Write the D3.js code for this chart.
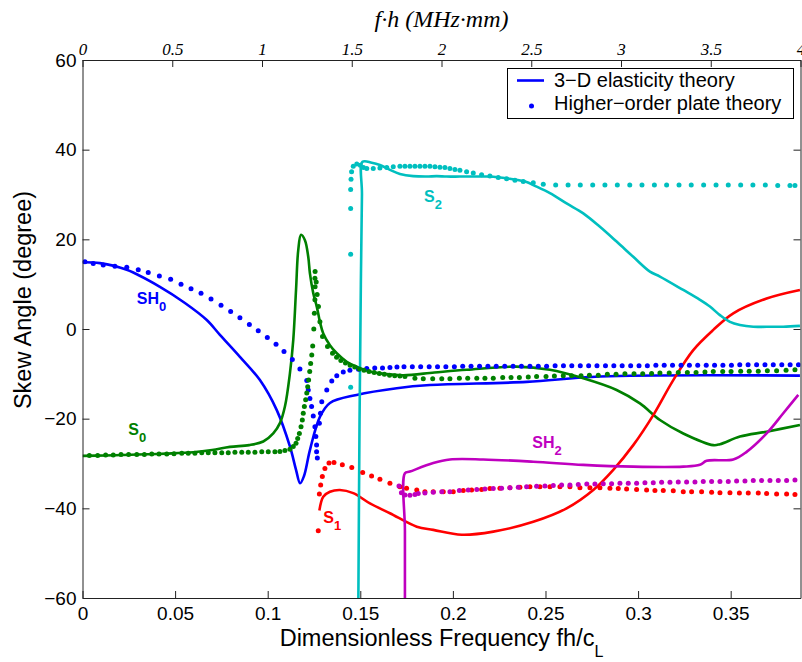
<!DOCTYPE html>
<html>
<head>
<meta charset="utf-8">
<script src="https://cdn.jsdelivr.net/npm/d3@7"></script>
<style>
  body{margin:0;background:#fff;}
  svg{display:block;}
</style>
</head>
<body>
<div id="chart"></div>
<script>
// ---------------- data (x: fh/cL, y: skew angle in degrees) ----------------
var xTicks=[0,0.05,0.1,0.15,0.2,0.25,0.3,0.35];
var xTopTicks=[0,0.5,1,1.5,2,2.5,3,3.5,4];
var yTicks=[-60,-40,-20,0,20,40,60];

// 3-D elasticity theory (solid)
var sh0Solid=[[0,14.9],[0.0094,14.7],[0.0239,13.2],[0.0418,9.4],[0.0553,5.8],[0.0671,2.0],[0.0742,-1.3],[0.085,-6.2],
  [0.0958,-11.4],[0.1049,-18.1],[0.112,-26.2],[0.1153,-31.4],[0.1175,-34.4],[0.1196,-32.8],[0.1228,-27.0],[0.1282,-19.6],
  [0.1336,-16.5],[0.148,-14.7],[0.1697,-13.2],[0.1876,-12.5],[0.2398,-11.8],[0.2794,-10.6],[0.3874,-10.4]];
var s0Solid=[[0,-28.3],[0.012,-28.2],[0.03,-28.0],[0.045,-27.8],[0.0598,-27.5],[0.07,-27.0],[0.0796,-26.3],[0.09,-25.9],
  [0.0976,-25.1],[0.103,-23.3],[0.1066,-21.0],[0.1093,-17.3],[0.112,-9.9],[0.1138,-2.5],[0.1153,8.7],[0.1165,17.6],
  [0.118,21.0],[0.1201,19.8],[0.1219,16.1],[0.1228,12.4],[0.1246,8.0],[0.1265,5.0],[0.1282,1.6],[0.13,-1.0],[0.1336,-3.6],
  [0.1373,-5.4],[0.1427,-7.3],[0.1481,-8.4],[0.1552,-9.5],[0.1606,-9.9],[0.1732,-10.3],[0.19,-9.7],[0.2075,-9.1],
  [0.2345,-8.4],[0.2524,-9.1],[0.2704,-11.0],[0.2884,-13.6],[0.301,-16.6],[0.3118,-20.3],[0.3244,-23.3],[0.3406,-25.9],
  [0.3442,-25.7],[0.355,-24.0],[0.3694,-22.9],[0.3874,-21.4]];
var s1Solid=[[0.1279,-40.5],[0.13,-37.4],[0.1336,-36.3],[0.139,-35.9],[0.1462,-36.6],[0.1552,-38.9],[0.166,-41.1],
  [0.1805,-44.1],[0.1894,-44.8],[0.2048,-45.9],[0.2218,-45.2],[0.2434,-43.0],[0.2614,-40.0],[0.2758,-35.9],[0.2866,-31.4],
  [0.2974,-25.9],[0.3082,-19.2],[0.319,-11.4],[0.3298,-4.7],[0.3406,-0.2],[0.3514,3.5],[0.3694,6.8],[0.3874,8.7]];
var s2Solid=[[0.1489,-64],[0.1496,-20],[0.1503,10],[0.1509,30],[0.1512,37.3],[0.1562,37.1],[0.1606,36.6],[0.166,35.5],
  [0.1714,34.6],[0.1786,34.1],[0.1858,34.0],[0.1912,34.1],[0.1966,34.0],[0.2038,34.0],[0.211,34.0],[0.2182,34.0],
  [0.2254,33.8],[0.2308,33.5],[0.2398,32.8],[0.2434,32.1],[0.2524,30.3],[0.2614,28.0],[0.2704,25.8],[0.2794,22.8],
  [0.2884,19.5],[0.2974,16.1],[0.3064,12.8],[0.3118,11.7],[0.3244,8.7],[0.3334,6.5],[0.3388,5.0],[0.3442,3.1],
  [0.3496,1.6],[0.355,0.9],[0.3622,0.5],[0.3694,0.5],[0.3784,0.5],[0.3874,0.7]];
var sh2Solid=[[0.1741,-64],[0.1741,-45],[0.1741,-32.2],[0.1768,-31.8],[0.1894,-29.9],[0.1984,-29.1],[0.2164,-29.1],
  [0.2434,-29.6],[0.2704,-30.3],[0.2974,-30.7],[0.3244,-30.7],[0.3334,-30.3],[0.337,-29.4],[0.3514,-29.1],
  [0.3586,-27.4],[0.3694,-23.3],[0.3784,-18.8],[0.3865,-14.7]];

// Higher-order plate theory (dots)
var sh0Dots=[[0.0013,15.0],[0.0058,14.6],[0.0112,14.3],[0.0175,14.0],[0.0239,13.8],[0.0301,13.2],[0.0355,12.6],
  [0.0415,11.8],[0.0476,11.1],[0.0532,10.0],[0.0586,9.0],[0.064,8.0],[0.0694,6.7],[0.0748,5.3],[0.08,3.9],[0.085,2.5],
  [0.0901,1.0],[0.0949,-0.4],[0.0998,-1.9],[0.1045,-3.4],[0.1088,-5.0],[0.1133,-6.8],[0.1174,-8.9],[0.1211,-11.5],
  [0.1219,-13.6],[0.1228,-15.5],[0.1237,-17.3],[0.1246,-19.4],[0.1255,-21.8],[0.126,-24.0],[0.1264,-25.9],
  [0.1264,-27.4],[0.1268,-28.8],[0.1279,-21.0],[0.1285,-18.8],[0.1292,-16.2],[0.1319,-13.6],[0.1346,-11.6],
  [0.1373,-10.4],[0.1408,-9.6],[0.1444,-9.2],[0.149,-9.0],[0.1535,-8.8],[0.1578,-8.7],[0.162,-8.7],[0.166,-8.6],
  [0.1698,-8.5],[0.1736,-8.4],[0.1781,-8.4],[0.1826,-8.4],[0.1872,-8.4],[0.1917,-8.4],[0.1962,-8.4],[0.2008,-8.4],
  [0.2053,-8.3],[0.2098,-8.3],[0.2144,-8.3],[0.2189,-8.3],[0.2234,-8.3],[0.228,-8.3],[0.2325,-8.3],[0.237,-8.3],
  [0.2416,-8.3],[0.2461,-8.3],[0.2506,-8.3],[0.2552,-8.2],[0.2597,-8.2],[0.2642,-8.2],[0.2688,-8.2],[0.2733,-8.2],
  [0.2778,-8.2],[0.2824,-8.2],[0.2869,-8.2],[0.2914,-8.2],[0.296,-8.2],[0.3005,-8.2],[0.305,-8.2],[0.3096,-8.1],
  [0.3141,-8.1],[0.3186,-8.1],[0.3232,-8.1],[0.3277,-8.1],[0.3322,-8.1],[0.3368,-8.1],[0.3413,-8.1],[0.3458,-8.1],
  [0.3504,-8.1],[0.3549,-8.0],[0.3594,-8.0],[0.364,-8.0],[0.3685,-8.0],[0.373,-8.0],[0.3776,-8.0],[0.3821,-8.0],[0.3866,-8.0]];
var s0Dots=[[0.0037,-28.2],[0.0082,-28.2],[0.0125,-28.1],[0.0166,-28.1],[0.0208,-28.0],[0.0249,-28.0],[0.0293,-28.0],
  [0.0334,-28.0],[0.0374,-27.9],[0.0413,-27.9],[0.0455,-27.9],[0.0494,-27.8],[0.0536,-27.7],[0.0571,-27.7],[0.0607,-27.7],
  [0.0644,-27.6],[0.0679,-27.6],[0.0715,-27.6],[0.0752,-27.6],[0.0787,-27.6],[0.0823,-27.5],[0.086,-27.5],[0.0895,-27.5],
  [0.0931,-27.5],[0.0968,-27.4],[0.1003,-27.4],[0.1039,-27.4],[0.1066,-27.3],[0.1093,-27.1],[0.112,-26.8],[0.1138,-26.2],
  [0.1153,-25.5],[0.1162,-24.4],[0.1171,-23.3],[0.118,-21.8],[0.1187,-20.3],[0.1192,-18.8],[0.1198,-17.3],[0.1205,-15.8],
  [0.1211,-14.3],[0.1216,-12.9],[0.1221,-11.4],[0.1227,-9.5],[0.1232,-7.7],[0.1238,-5.8],[0.1243,-3.8],[0.1249,0.0],
  [0.1252,3.5],[0.1255,6.5],[0.1256,9.4],[0.1255,11.3],[0.1256,12.8],[0.1262,10.5],[0.1267,7.7],[0.1274,5.0],
  [0.1282,1.6],[0.1296,-1.7],[0.1323,-3.9],[0.135,-5.4],[0.1372,-6.3],[0.1395,-7.0],[0.142,-7.6],[0.1445,-8.1],
  [0.147,-8.5],[0.1495,-8.9],[0.152,-9.2],[0.1547,-9.5],[0.1575,-9.7],[0.1603,-9.9],[0.163,-10.1],[0.1658,-10.3],
  [0.1686,-10.4],[0.1714,-10.5],[0.1741,-10.6],[0.1795,-11.0],[0.184,-11.1],[0.1891,-11.1],[0.194,-11.1],[0.1984,-11.1],
  [0.2035,-11.0],[0.208,-11.0],[0.2129,-11.0],[0.2173,-11.0],[0.2218,-11.0],[0.2269,-10.8],[0.2314,-10.8],[0.2359,-10.8],
  [0.2407,-10.7],[0.2452,-10.6],[0.2503,-10.6],[0.2548,-10.5],[0.2596,-10.4],[0.2641,-10.4],[0.2692,-10.4],[0.2737,-10.3],
  [0.2785,-10.3],[0.2834,-10.1],[0.2881,-10.1],[0.2929,-10.0],[0.2978,-10.0],[0.3025,-10.0],[0.3073,-9.9],[0.3118,-9.8],
  [0.3168,-9.8],[0.3217,-9.7],[0.3266,-9.7],[0.3313,-9.7],[0.3361,-9.6],[0.3406,-9.5],[0.3457,-9.5],[0.3502,-9.5],
  [0.3554,-9.4],[0.36,-9.4],[0.3649,-9.4],[0.3698,-9.3],[0.3748,-9.3],[0.3799,-9.2],[0.3847,-9.1]];
var s1Dots=[[0.1273,-45.0],[0.1279,-36.8],[0.1286,-34.8],[0.1295,-32.9],[0.1309,-31.1],[0.1331,-29.9],[0.1358,-29.8],
  [0.1403,-30.3],[0.1454,-30.9],[0.1513,-32.0],[0.1561,-32.8],[0.1606,-33.5],[0.166,-34.4],[0.1714,-35.2],[0.175,-35.5],
  [0.1805,-35.9],[0.1849,-36.3],[0.1894,-36.3],[0.1948,-36.3],[0.2002,-36.3],[0.2056,-36.0],[0.2101,-35.9],[0.2155,-35.8],
  [0.22,-35.6],[0.2254,-35.5],[0.2308,-35.4],[0.2362,-35.3],[0.2416,-35.2],[0.247,-35.2],[0.2524,-35.2],[0.2578,-35.2],
  [0.2632,-35.2],[0.2686,-35.4],[0.274,-35.4],[0.2794,-35.4],[0.2848,-35.5],[0.2893,-35.6],[0.2938,-35.7],[0.2992,-35.8],
  [0.3046,-35.9],[0.3091,-36.0],[0.3136,-36.0],[0.319,-36.1],[0.3244,-36.3],[0.3289,-36.3],[0.3343,-36.3],[0.3397,-36.4],
  [0.3442,-36.5],[0.3496,-36.5],[0.3547,-36.6],[0.3595,-36.6],[0.3649,-36.6],[0.3694,-36.7],[0.3748,-36.8],[0.3802,-36.8],
  [0.3847,-36.9]];
var s2Dots=[[0.1448,-13.0],[0.1448,16.7],[0.1448,26.9],[0.1448,31.1],[0.145,33.4],[0.1453,35.1],[0.1462,36.3],
  [0.1481,36.8],[0.15,36.5],[0.1517,36.0],[0.1535,35.8],[0.157,35.8],[0.1606,35.9],[0.1643,36.0],[0.1678,36.2],
  [0.1714,36.3],[0.1741,36.3],[0.1768,36.3],[0.1795,36.3],[0.1822,36.3],[0.1849,36.3],[0.1876,36.3],[0.1903,36.2],
  [0.193,36.1],[0.1957,36.0],[0.1984,35.8],[0.2011,35.6],[0.2038,35.4],[0.2074,35.1],[0.211,34.8],[0.2155,34.4],
  [0.22,34.1],[0.2245,33.8],[0.229,33.5],[0.2335,33.2],[0.238,32.9],[0.2434,32.6],[0.2488,32.3],[0.2555,32.1],
  [0.2622,32.1],[0.2688,32.1],[0.2755,32.1],[0.2821,32.1],[0.2888,32.1],[0.2955,32.1],[0.3021,32.1],[0.3088,32.1],
  [0.3154,32.1],[0.3221,32.1],[0.3287,32.1],[0.3354,32.1],[0.3421,32.1],[0.3487,32.1],[0.3554,32.1],[0.362,32.1],
  [0.3687,32.1],[0.3754,32.0],[0.382,32.0],[0.3847,32.0]];
var sh2Dots=[[0.1709,-35.0],[0.1722,-36.5],[0.1741,-37.0],[0.1768,-37.1],[0.1795,-36.9],[0.1813,-36.7],[0.1849,-36.6],
  [0.1894,-36.4],[0.194,-36.3],[0.1984,-36.3],[0.2035,-36.0],[0.2083,-35.9],[0.2129,-35.8],[0.2173,-35.7],[0.2218,-35.6],
  [0.2263,-35.5],[0.2308,-35.4],[0.2353,-35.3],[0.2398,-35.2],[0.2452,-35.1],[0.2497,-35.0],[0.2542,-34.9],[0.2587,-34.8],
  [0.2632,-34.8],[0.2677,-34.7],[0.2723,-34.6],[0.2767,-34.6],[0.2812,-34.5],[0.2857,-34.5],[0.2902,-34.4],[0.2947,-34.4],
  [0.2992,-34.4],[0.3037,-34.3],[0.3082,-34.3],[0.3127,-34.2],[0.3172,-34.2],[0.3217,-34.1],[0.3262,-34.1],[0.3307,-34.1],
  [0.3352,-34.0],[0.3397,-34.0],[0.3442,-34.0],[0.3487,-34.0],[0.3532,-33.9],[0.3577,-33.9],[0.3622,-33.8],[0.3667,-33.8],
  [0.3712,-33.8],[0.3757,-33.8],[0.3802,-33.8],[0.3847,-33.7]];

var modeNames=['SH','S','S','S','SH'];
var modeSubs=['0','0','1','2','2'];
var modeColors=['#0000ff','#008000','#ff0000','#00bfbf','#bf00bf'];
var modeAt=[[0.0293,5.6],[0.0247,-23.6],[0.13,-43.3],[0.1844,28.4],[0.2429,-26.6]];

var legendLabels=['3\u2212D elasticity theory','Higher\u2212order plate theory'];

// ---------------- drawing ----------------
var W=802,H=662;
var oSvg=d3.select('#chart').append('svg').attr('width',W).attr('height',H)
  .attr('font-family','"Liberation Sans", Arial, Helvetica, sans-serif');

var x=d3.scaleLinear().domain([0,0.3877]).range([82.5,800.5]);
var xTop=d3.scaleLinear().domain([0,4]).range([82.5,800.5]);
var y=d3.scaleLinear().domain([-60,60]).range([598,60]);

oSvg.append('clipPath').attr('id','plotclip').append('rect')
  .attr('x',x(0)).attr('y',y(60)).attr('width',x(0.3877)-x(0)).attr('height',y(-60)-y(60));

var oGPlot=oSvg.append('g').attr('clip-path','url(#plotclip)');

var line=d3.line().x(function(d){return x(d[0])}).y(function(d){return y(d[1])})
  .curve(d3.curveCatmullRom.alpha(0.5));

var solids=[sh0Solid,s0Solid,s1Solid,s2Solid,sh2Solid];
var dots=[sh0Dots,s0Dots,s1Dots,s2Dots,sh2Dots];

solids.forEach(function(s,i){
  oGPlot.append('path').attr('d',line(s)).attr('fill','none')
    .attr('stroke',modeColors[i]).attr('stroke-width',2.6).attr('stroke-linejoin','round');
});
dots.forEach(function(s,i){
  oGPlot.append('g').selectAll('circle').data(s).enter().append('circle')
    .attr('cx',function(d){return x(d[0])}).attr('cy',function(d){return y(d[1])})
    .attr('r',2.5).attr('fill',modeColors[i]);
});

// mode labels
modeNames.forEach(function(n,i){
  var t=oSvg.append('text').attr('x',x(modeAt[i][0])).attr('y',y(modeAt[i][1]))
    .attr('font-size',16).attr('font-weight','bold').attr('fill',modeColors[i]);
  t.append('tspan').text(n);
  t.append('tspan').attr('dy',7).attr('font-size',13).text(modeSubs[i]);
});

// axes
var fmt=d3.format('');
var gB=oSvg.append('g').attr('transform','translate(0,'+y(-60)+')')
  .call(d3.axisBottom(x).tickValues(xTicks).tickFormat(fmt).tickSizeInner(-7).tickSizeOuter(0).tickPadding(9));
var gT=oSvg.append('g').attr('transform','translate(0,'+y(60)+')')
  .call(d3.axisTop(xTop).tickValues(xTopTicks).tickFormat(fmt).tickSizeInner(-7).tickSizeOuter(0).tickPadding(5));
var gL=oSvg.append('g').attr('transform','translate('+x(0)+',0)')
  .call(d3.axisLeft(y).tickValues(yTicks).tickSizeInner(-7).tickSizeOuter(0).tickPadding(6));
var gR=oSvg.append('g').attr('transform','translate('+x(0.3877)+',0)')
  .call(d3.axisRight(y).tickValues(yTicks).tickFormat('').tickSizeInner(-7).tickSizeOuter(0));

[gB,gT,gL,gR].forEach(function(g){
  g.selectAll('path.domain').attr('stroke','#222');
  g.selectAll('line').attr('stroke','#222');
  g.selectAll('text').attr('fill','#000');
});
gB.selectAll('text').attr('font-size',19).attr('font-family','"Liberation Sans", Arial, sans-serif');
gL.selectAll('text').attr('font-size',19).attr('font-family','"Liberation Sans", Arial, sans-serif');
gT.selectAll('text').attr('font-size',17).attr('font-style','italic')
  .attr('font-family','"Liberation Serif", "Times New Roman", serif');

// axis titles
var xl=oSvg.append('text').attr('x',(x(0)+x(0.3877))/2).attr('y',646).attr('text-anchor','middle')
  .attr('font-size',23.5);
xl.append('tspan').text('Dimensionless Frequency fh/c');
xl.append('tspan').attr('dy',11).attr('font-size',16).text('L');

oSvg.append('text').attr('transform','translate(31,300) rotate(-90)').attr('text-anchor','middle')
  .attr('font-size',23.5).text('Skew Angle (degree)');

oSvg.append('text').attr('x',(x(0)+x(0.3877))/2).attr('y',27).attr('text-anchor','middle')
  .attr('font-size',24).attr('font-style','italic')
  .attr('font-family','"Liberation Serif", "Times New Roman", serif')
  .text('f\u00b7h (MHz\u00b7mm)');

// legend
var oGLeg=oSvg.append('g');
oGLeg.append('rect').attr('x',507.5).attr('y',68.5).attr('width',286).attr('height',50)
  .attr('fill','#fff').attr('stroke','#000').attr('stroke-width',1);
oGLeg.append('line').attr('x1',517).attr('x2',544).attr('y1',80.5).attr('y2',80.5)
  .attr('stroke','#0000ff').attr('stroke-width',2.6);
oGLeg.append('circle').attr('cx',531.5).attr('cy',106).attr('r',2.5).attr('fill','#0000ff');
oGLeg.selectAll('text').data(legendLabels).enter().append('text')
  .attr('x',554).attr('y',function(d,i){return i?110:87}).attr('font-size',20).text(function(d){return d});
</script>
</body>
</html>
